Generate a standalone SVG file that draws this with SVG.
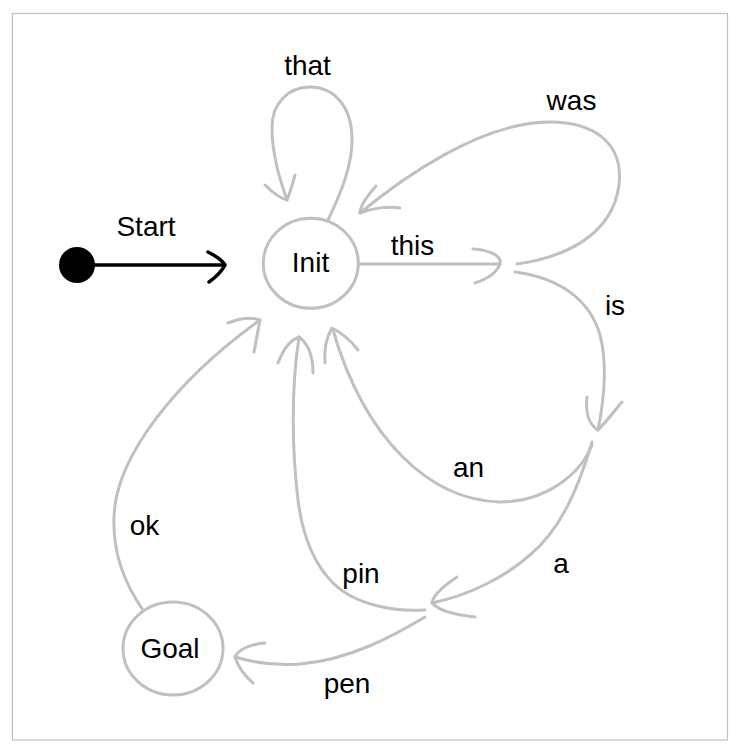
<svg xmlns="http://www.w3.org/2000/svg" width="740" height="753" viewBox="0 0 740 753">
<style>
.frame{fill:#fff;stroke:#c0c0c0;stroke-width:1.2}
.node{fill:#fff;stroke:#c0c0c0;stroke-width:3}
.edge{fill:none;stroke:#c0c0c0;stroke-width:3;stroke-linecap:round;stroke-linejoin:round}
.start{fill:none;stroke:#000;stroke-width:3.5;stroke-linecap:round;stroke-linejoin:round}
.lbl{font-family:"Liberation Sans",Arial,sans-serif;font-size:28px;fill:#000;text-anchor:middle}
</style>
<rect width="740" height="753" fill="#fff"/>
<rect class="frame" x="12.5" y="13.5" width="715" height="726.5"/>
<g id="connectors">
  <g id="e-start">
    <line class="start" x1="90" y1="265" x2="224" y2="265"/>
    <path class="start" d="M208,252 C216,256 222,260 225,265 C222,271 216,277 209,282"/>
    <text class="lbl" x="146" y="236">Start</text>
  </g>
  <g id="e-this">
    <path class="edge" d="M358,264 C400,264 460,264 500,264"/>
    <path class="edge" d="M473,249 C490,250 502,256 500,264 C497,272 487,279 475,283"/>
    <text class="lbl" x="412.5" y="255">this</text>
  </g>
  <g id="e-that">
    <path class="edge" d="M328,220 C340,195 353,165 352,137 C351,105 333,87 310,87 C287,87 272,105 272,127 C272,155 280,180 287,200"/>
    <path class="edge" d="M265,185 C273,193 280,198 287,200 C290,192 293,183 295,175"/>
    <text class="lbl" x="307.5" y="75">that</text>
  </g>
  <g id="e-was">
    <path class="edge" d="M517,264 C560,258 612,238 619,185 C624,140 590,122 550,122 C480,122 400,180 360,213"/>
    <path class="edge" d="M376,186 C368,195 360,205 360,213 C372,208 388,206 400,208"/>
    <text class="lbl" x="571.5" y="110">was</text>
  </g>
  <g id="e-is">
    <path class="edge" d="M515,272 C560,278 590,300 600,335 C608,365 604,400 598,430"/>
    <path class="edge" d="M587,397 C585,415 590,425 598,430 C608,420 615,410 622,402"/>
    <text class="lbl" x="615" y="315">is</text>
  </g>
  <g id="e-an">
    <path class="edge" d="M592,445 C580,475 545,502 500,502 C430,500 365,440 333,330"/>
    <path class="edge" d="M325,363 C324,350 326,338 332,328 C342,333 352,342 358,350"/>
    <text class="lbl" x="468.5" y="477">an</text>
  </g>
  <g id="e-a">
    <path class="edge" d="M592,442 C578,490 560,530 530,555 C505,577 470,595 432,603"/>
    <path class="edge" d="M457,577 C445,585 433,595 432,603 C440,612 458,615 475,617"/>
    <text class="lbl" x="561" y="573">a</text>
  </g>
  <g id="e-pin">
    <path class="edge" d="M425,610 C395,612 355,605 333,583 C315,565 303,540 298,500 C292,450 291,390 299,337"/>
    <path class="edge" d="M278,363 C283,350 290,340 299,337 C310,345 313,360 313,373"/>
    <text class="lbl" x="361" y="583">pin</text>
  </g>
  <g id="e-pen">
    <path class="edge" d="M425,617 C395,635 350,660 300,664 C275,666 255,663 235,657"/>
    <path class="edge" d="M265,643 C250,644 238,650 235,657 C238,667 245,676 253,683"/>
    <text class="lbl" x="347" y="693">pen</text>
  </g>
  <g id="e-ok">
    <path class="edge" d="M143,610 C122,580 110,545 115,505 C122,455 170,385 260,320"/>
    <path class="edge" d="M228,323 C240,318 252,317 260,320 C258,330 256,342 254,352"/>
    <text class="lbl" x="144.5" y="535">ok</text>
  </g>
</g>
<g id="node-start">
  <circle cx="77" cy="265" r="18" fill="#000"/>
</g>
<g id="node-init">
  <ellipse class="node" cx="310.8" cy="263.3" rx="47.5" ry="45"/>
  <text class="lbl" x="310.5" y="272">Init</text>
</g>
<g id="node-goal">
  <ellipse class="node" cx="173" cy="648.5" rx="50" ry="46.5"/>
  <text class="lbl" x="170" y="658">Goal</text>
</g>
</svg>
